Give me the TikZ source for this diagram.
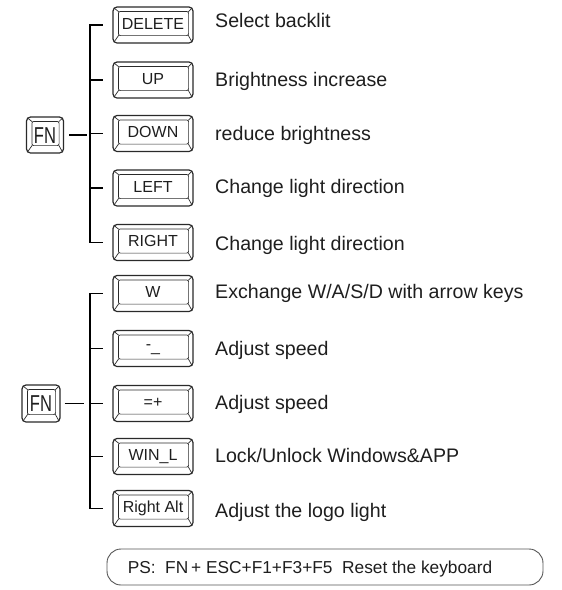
\documentclass[tikz,border=0pt]{standalone}
\usepackage{fontspec}
\usepackage{graphicx}
\setmainfont{Liberation Sans}
\definecolor{keyline}{HTML}{2A2A2A}
\definecolor{textc}{HTML}{1E1E1E}
\definecolor{boxline}{HTML}{555555}
\tikzset{
  keycap/.style={draw=keyline, line width=1.2pt, rounded corners=4pt,
    minimum width=80pt, minimum height=36pt, inner sep=0pt, text=textc,
    font=\fontsize{16}{17}\selectfont, text height=11.5pt, text depth=3pt},
  fnkey/.style={keycap, minimum width=37pt, minimum height=36pt,
    font=\fontsize{23}{24}\selectfont, text height=16.5pt, text depth=0pt},
  keyinner/.style={draw=keyline, line width=0.7pt, rounded corners=2pt},
  bevel/.style={draw=keyline, line width=0.7pt},
  desc/.style={anchor=west, inner sep=0pt, text=textc,
    font=\fontsize{19.6}{21}\selectfont, text height=14pt, text depth=0pt},
  conn/.style={line width=1.3pt, draw=black},
  psbox/.style={draw=boxline, line width=0.9pt, rounded corners=14pt,
    minimum width=436pt, minimum height=36pt, inner sep=0pt},
  pstext/.style={anchor=west, inner sep=0pt, text=textc,
    font=\fontsize{17.3}{18}\selectfont, text height=12.4pt, text depth=0pt},
}
\begin{document}
\begin{tikzpicture}[x=1pt,y=-1pt]
\useasboundingbox (0,0) rectangle (562,590);
% ---------- group 1 ----------
\node[fnkey] (fna) at (45,135) {\scalebox{0.72}[1]{FN}};
\node[keycap] (a1) at (153,25) {DELETE};
\node[keycap] (a2) at (153,80) {UP};
\node[keycap] (a3) at (153,133.5) {DOWN};
\node[keycap] (a4) at (153,188) {LEFT};
\node[keycap] (a5) at (153,242.5) {RIGHT};
\node[desc] (la1) at (215,20.7) {Select backlit};
\node[desc] (la2) at (215,79.3) {Brightness increase};
\node[desc] (la3) at (215,133) {reduce brightness};
\node[desc] (la4) at (215,186.5) {Change light direction};
\node[desc] (la5) at (215,243) {Change light direction};
% ---------- group 2 ----------
\node[fnkey, minimum width=38pt, minimum height=37pt] (fnb) at (41,403.5) {\scalebox{0.72}[1]{FN}};
\node[keycap] (b1) at (153,293.5) {W};
\node[keycap] (b2) at (153,348.5) {\raisebox{3pt}{-}\raisebox{1pt}{\_}};
\node[keycap] (b3) at (153,403.5) {=+};
\node[keycap] (b4) at (153,456.5) {WIN\_L};
\node[keycap] (b5) at (153,508.5) {Right Alt};
\node[desc] (lb1) at (215,291.7) {Exchange W/A/S/D with arrow keys};
\node[desc] (lb2) at (215,348) {Adjust speed};
\node[desc] (lb3) at (215,402.5) {Adjust speed};
\node[desc] (lb4) at (215,455) {Lock/Unlock Windows\&APP};
\node[desc] (lb5) at (215,510) {Adjust the logo light};
% ---------- keycap details ----------
\foreach \k in {fna,a1,a2,a3,a4,a5,fnb,b1,b2,b3,b4,b5}{
  \draw[keyinner] ([xshift=6pt,yshift=-5pt]\k.north west) rectangle ([xshift=-5pt,yshift=8pt]\k.south east);
  \draw[bevel] ([xshift=1.6pt,yshift=-1.6pt]\k.north west) -- ([xshift=6.3pt,yshift=-5.3pt]\k.north west);
  \draw[bevel] ([xshift=-1.6pt,yshift=-1.6pt]\k.north east) -- ([xshift=-5.3pt,yshift=-5.3pt]\k.north east);
  \draw[bevel] ([xshift=1.6pt,yshift=1.6pt]\k.south west) -- ([xshift=6.3pt,yshift=8.3pt]\k.south west);
  \draw[bevel] ([xshift=-1.6pt,yshift=1.6pt]\k.south east) -- ([xshift=-5.3pt,yshift=8.3pt]\k.south east);
}
% ---------- brackets ----------
\coordinate (bra) at (90,0);
\coordinate (brb) at (90,0);
\draw[conn] ([xshift=-9.5pt]a1.west) -| (bra |- a5.west) -- ([xshift=-9.5pt]a5.west);
\foreach \k in {a2,a3,a4}{\draw[conn] (bra |- \k.west) -- ([xshift=-9.5pt]\k.west);}
\draw[conn] ([xshift=5pt]fna.east) -- ([xshift=-3pt]bra |- fna.east);
\draw[conn] ([xshift=-9.5pt]b1.west) -| (brb |- b5.west) -- ([xshift=-9.5pt]b5.west);
\foreach \k in {b2,b3,b4}{\draw[conn] (brb |- \k.west) -- ([xshift=-9.5pt]\k.west);}
\draw[conn] ([xshift=4pt]fnb.east) -- ([xshift=-6.5pt]brb |- fnb.east);
% ---------- PS box ----------
\node[psbox] (ps) at (325,567) {};
\node[pstext] (pst) at ([xshift=21pt]ps.west) {PS:\ \ FN\,+ ESC+F1+F3+F5\ \ Reset the keyboard};
\end{tikzpicture}
\end{document}
